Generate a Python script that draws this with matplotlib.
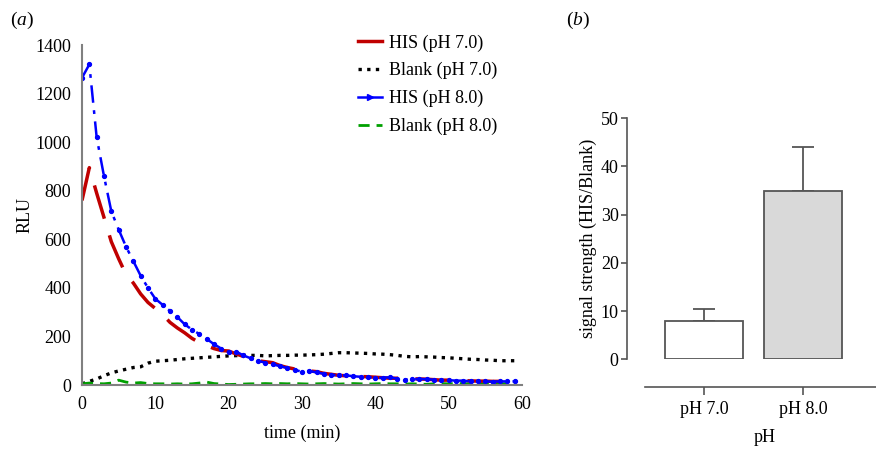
import matplotlib
matplotlib.use('Agg')
import matplotlib.pyplot as plt
from matplotlib.lines import Line2D

plt.rcParams['font.family'] = ['Liberation Serif', 'DejaVu Serif']
plt.rcParams['mathtext.fontset'] = 'custom'
plt.rcParams['mathtext.rm'] = 'Liberation Serif'
plt.rcParams['mathtext.it'] = 'Liberation Serif:italic'

# panel (a): luminescence over time, one point per minute
time_min = list(range(60))
his_ph7 = [760, 895, 790, 690, 590, 520, 455, 420, 375, 340,
           315, 290, 258, 235, 215, 192, 175, 162, 150, 142,
           140, 128, 118, 105, 100, 96, 92, 80, 72, 66,
           60, 58, 55, 48, 44, 40, 38, 36, 35, 34,
           32, 30, 28, 28, 26, 25, 25, 24, 22, 20,
           20, 19, 18, 17, 16, 16, 15, 15, 15, 14]
blank_ph7 = [5, 15, 25, 38, 50, 58, 65, 72, 75, 90,
             98, 100, 102, 105, 108, 110, 112, 114, 116, 118,
             120, 121, 122, 122, 122, 120, 121, 122, 122, 123,
             123, 124, 125, 127, 130, 133, 133, 132, 131, 130,
             128, 127, 125, 122, 118, 116, 117, 116, 115, 113,
             112, 110, 108, 106, 105, 103, 102, 100, 100, 100]
his_ph8 = [1265, 1320, 1020, 860, 715, 640, 570, 510, 450, 400,
           355, 330, 305, 280, 250, 228, 210, 190, 168, 150,
           135, 138, 122, 110, 100, 92, 85, 78, 70, 62,
           55, 58, 52, 46, 42, 40, 40, 36, 34, 32,
           30, 30, 32, 26, 22, 24, 25, 24, 22, 20,
           20, 18, 18, 15, 16, 15, 14, 15, 15, 15]
blank_ph8 = [5, 8, 6, 5, 8, 20, 12, 8, 10, 6,
             5, 5, 4, 5, 4, 5, 8, 12, 6, 4,
             2, 3, 4, 5, 5, 6, 5, 6, 5, 6,
             5, 4, 5, 6, 5, 4, 5, 6, 5, 4,
             5, 6, 5, 5, 4, 5, 4, 3, 5, 6,
             5, 6, 6, 5, 6, 5, 6, 5, 6, 6]

# panel (b): signal ratio
ph_labels = ['pH 7.0', 'pH 8.0']
ratio = [8.0, 35.0]
ratio_err = [2.5, 9.0]

red = '#c00000'
blue = '#0000ff'
green = '#00a000'
grey = '#808080'
dark = '#555555'

fig = plt.figure(figsize=(8.76, 4.5), dpi=100)

# ---- (a)
ax1 = fig.add_axes([0.0936, 0.1444, 0.5023, 0.7556])
ax1.plot(time_min, blank_ph7, color='black', linestyle=(0, (1, 1.6)), linewidth=2.4)
ax1.plot(time_min, blank_ph8, color=green, linestyle=(0, (4, 2.5)), linewidth=2)
ax1.plot(time_min, his_ph7, color=red, linestyle=(0, (10, 5)), linewidth=2.5)
ax1.plot(time_min, his_ph8, color=blue, linestyle=(0, (7, 3, 1.5, 3)), linewidth=1.8,
         marker='o', markersize=2.8)
ax1.set_xlim(0, 60)
ax1.set_ylim(0, 1400)
ax1.set_xticks([0, 10, 20, 30, 40, 50, 60])
ax1.set_yticks(range(0, 1401, 200))
for s in ['top', 'right']:
    ax1.spines[s].set_visible(False)
for s in ['left', 'bottom']:
    ax1.spines[s].set_color(grey)
    ax1.spines[s].set_linewidth(1.5)
ax1.tick_params(length=0, labelsize=13, pad=8)
ax1.set_xlabel('time (min)', fontsize=13, labelpad=8)
ax1.set_ylabel('RLU', fontsize=13, labelpad=1)

handles = [
    Line2D([], [], color=red, linewidth=2.5),
    Line2D([], [], color='black', linestyle=(0, (1, 1.6)), linewidth=2.4),
    Line2D([], [], color=blue, linewidth=1.8, marker='>', markersize=4, markevery=[1]),
    Line2D([], [], color=green, linestyle=(0, (4, 2.5)), linewidth=2),
]
labels = ['HIS (pH 7.0)', 'Blank (pH 7.0)', 'HIS (pH 8.0)', 'Blank (pH 8.0)']
fig.legend(handles, labels, loc='upper left', bbox_to_anchor=(0.401, 0.94),
           frameon=False, fontsize=13, handlelength=1.3, handletextpad=0.4,
           labelspacing=0.58, borderaxespad=0)

# ---- (b)
ax2 = fig.add_axes([0.7158, 0.2016, 0.2842, 0.5356])
ax2.bar([0, 1], ratio, width=0.79, color=['white', '#d9d9d9'],
        edgecolor=dark, linewidth=1.3, zorder=2)
ax2.errorbar([0, 1], ratio, yerr=[[0, 0], ratio_err], fmt='none',
             ecolor=dark, elinewidth=1.3, capsize=8, capthick=1.3, zorder=1)
ax2.set_xlim(-0.78, 1.74)
ax2.set_ylim(0, 50)
ax2.set_yticks(range(0, 51, 10))
ax2.set_xticks([0, 1])
ax2.set_xticklabels(ph_labels)
for s in ['top', 'right']:
    ax2.spines[s].set_visible(False)
for s in ['left', 'bottom']:
    ax2.spines[s].set_color(dark)
    ax2.spines[s].set_linewidth(1.2)
ax2.spines['bottom'].set_position(('outward', 20))
ax2.spines['bottom'].set_bounds(-0.6, 1.74)
ax2.tick_params(axis='y', color=dark, width=1.2, length=4, labelsize=13, pad=2)
ax2.tick_params(axis='x', color=dark, width=1.2, length=6, labelsize=13, pad=4)
ax2.set_ylabel('signal strength (HIS/Blank)', fontsize=13, labelpad=3)
ax2.set_xlabel('pH', fontsize=13)
ax2.xaxis.set_label_coords(0.554, -0.29)

fig.text(0.011, 0.955, r'$\mathrm{(}\mathit{a}\mathrm{)}$', fontsize=14, va='center')
fig.text(0.646, 0.955, r'$\mathrm{(}\mathit{b}\mathrm{)}$', fontsize=14, va='center')

fig.savefig('out.png', dpi=100)
